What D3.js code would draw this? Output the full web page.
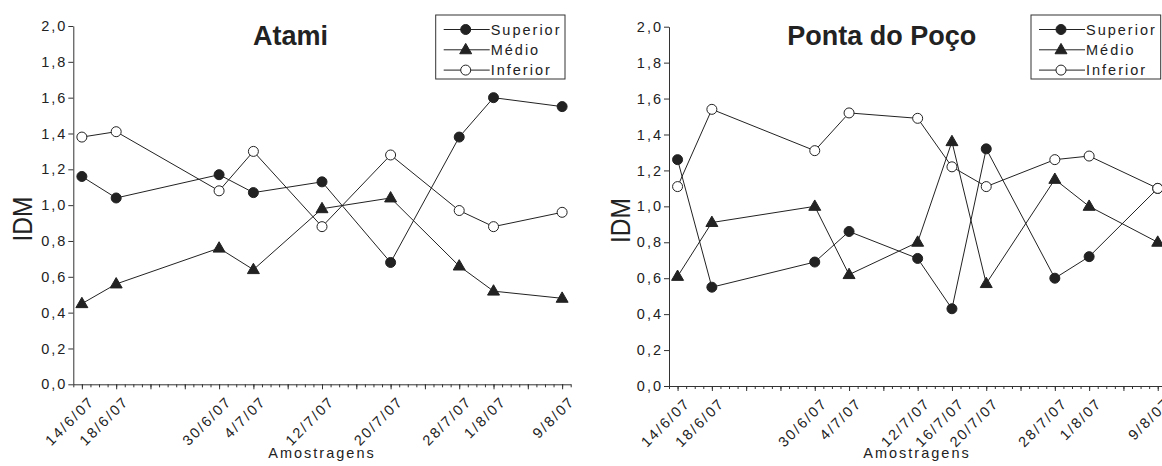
<!DOCTYPE html>
<html>
<head>
<meta charset="utf-8">
<script src="https://cdn.jsdelivr.net/npm/d3@7"></script>
<style>
  html, body { margin: 0; padding: 0; background: #fff; }
  svg { display: block; }
  text { font-family: "Liberation Sans", Arial, sans-serif; fill: #222; }
</style>
</head>
<body>
<svg id="chart" width="1162" height="466"></svg>
<script>
// ---------- data ----------
const datesAtami = ["14/6/07", "18/6/07", "30/6/07", "4/7/07", "12/7/07", "20/7/07", "28/7/07", "1/8/07", "9/8/07"];
const atamiSuperior = [1.16, 1.04, 1.17, 1.07, 1.13, 0.68, 1.38, 1.60, 1.55];
const atamiMedio    = [0.45, 0.56, 0.76, 0.64, 0.98, 1.04, 0.66, 0.52, 0.48];
const atamiInferior = [1.38, 1.41, 1.08, 1.30, 0.88, 1.28, 0.97, 0.88, 0.96];

const datesPonta = ["14/6/07", "18/6/07", "30/6/07", "4/7/07", "12/7/07", "16/7/07", "20/7/07", "28/7/07", "1/8/07", "9/8/07"];
const pontaSuperior = [1.26, 0.55, 0.69, 0.86, 0.71, 0.43, 1.32, 0.60, 0.72, 1.10];
const pontaMedio    = [0.61, 0.91, 1.00, 0.62, 0.80, 1.36, 0.57, 1.15, 1.00, 0.80];
const pontaInferior = [1.11, 1.54, 1.31, 1.52, 1.49, 1.22, 1.11, 1.26, 1.28, 1.10];

const seriesNames = ["Superior", "Médio", "Inferior"];
const yTicks = [0, 0.2, 0.4, 0.6, 0.8, 1.0, 1.2, 1.4, 1.6, 1.8, 2.0];
const xDomain = ["13/6/07", "10/8/07"];
const majorStart = "14/6/07";
const titles = ["Atami", "Ponta do Poço"];
const yLabel = "IDM";
const xLabel = "Amostragens";

// ---------- helpers ----------
const parse = d3.timeParse("%d/%m/%y");
const fmtDate = d3.timeFormat("%-d/%-m/%y");
const fmtY = v => d3.format(".1f")(v).replace(".", ",");
const INK = "#222";
const svg = d3.select("#chart");

function drawMarker(g, type, cx, cy) {
  if (type === 0) {
    g.append("circle").attr("cx", cx).attr("cy", cy).attr("r", 5)
      .attr("fill", INK).attr("stroke", INK).attr("stroke-width", 1);
  } else if (type === 1) {
    const sym = d3.symbol().type(d3.symbolTriangle).size(62);
    g.append("path").attr("d", sym()).attr("transform", `translate(${cx},${cy + 0.5})`)
      .attr("fill", INK).attr("stroke", INK).attr("stroke-width", 1);
  } else {
    g.append("circle").attr("cx", cx).attr("cy", cy).attr("r", 5)
      .attr("fill", "#fff").attr("stroke", INK).attr("stroke-width", 1);
  }
}

function panel(cfg) {
  const x = d3.scaleTime().domain(xDomain.map(parse)).range([cfg.x0, cfg.x1]);
  const y = d3.scaleLinear().domain([0, 2]).range([cfg.yBottom, cfg.yTop]);
  const g = svg.append("g");
  const dates = cfg.dates.map(parse);

  // y axis
  const ya = g.append("g").attr("transform", `translate(${cfg.x0},0)`)
    .call(d3.axisLeft(y).tickValues(yTicks).tickFormat(fmtY).tickSize(5).tickSizeOuter(0).tickPadding(1));
  ya.select(".domain").attr("stroke", "#333");
  ya.selectAll(".tick line").attr("stroke", "#333");
  ya.selectAll(".tick text").attr("font-size", "14.5px").attr("letter-spacing", "2px")
    .attr("fill", INK).attr("font-family", "Liberation Sans, Arial, sans-serif");

  // x axis minor (daily)
  const [d0, d1] = x.domain();
  const xMinor = g.append("g").attr("transform", `translate(0,${cfg.yBottom})`)
    .call(d3.axisBottom(x).tickValues(d3.timeDay.range(d0, d3.timeDay.offset(d1, 1))).tickSize(3).tickSizeOuter(0).tickFormat(""));
  xMinor.select(".domain").attr("stroke", "#333");
  xMinor.selectAll(".tick line").attr("stroke", "#333");
  // x axis major (every 4 days)
  const xMajor = g.append("g").attr("transform", `translate(0,${cfg.yBottom})`)
    .call(d3.axisBottom(x).tickValues(d3.timeDay.range(parse(majorStart), d1, 4)).tickSize(5).tickSizeOuter(0).tickFormat(""));
  xMajor.select(".domain").remove();
  xMajor.selectAll(".tick line").attr("stroke", "#333");
  // x labels
  const xLab = g.append("g").attr("transform", `translate(0,${cfg.yBottom})`)
    .call(d3.axisBottom(x).tickValues(dates).tickSize(0).tickFormat(fmtDate));
  xLab.select(".domain").remove();
  xLab.selectAll(".tick text")
    .attr("font-size", "14.5px").attr("letter-spacing", "2px")
    .attr("fill", INK).attr("font-family", "Liberation Sans, Arial, sans-serif")
    .attr("text-anchor", "end").attr("y", 0).attr("dy", 0)
    .attr("transform", "translate(13,18) rotate(-45)");

  // lines
  const series = [cfg.sup, cfg.med, cfg.inf];
  const line = d3.line().x((d, i) => x(dates[i])).y(d => y(d));
  series.forEach(s => {
    g.append("path").datum(s).attr("d", line).attr("fill", "none")
      .attr("stroke", INK).attr("stroke-width", 1);
  });
  series.forEach((s, k) => {
    s.forEach((v, i) => drawMarker(g, k, x(dates[i]), y(v)));
  });

  // title
  g.append("text").attr("x", cfg.titleX).attr("y", 45).attr("text-anchor", "middle")
    .attr("font-size", "27px").attr("font-weight", "bold").attr("fill", "#000").text(cfg.title);

  // y label
  g.append("text").attr("transform", `translate(${cfg.yLabX},${cfg.yLabY}) rotate(-90)`)
    .attr("text-anchor", "middle").attr("font-size", "28px")
    .attr("textLength", 45).attr("lengthAdjust", "spacingAndGlyphs").text(yLabel);

  // x label
  g.append("text").attr("x", cfg.xLabX).attr("y", 458).attr("text-anchor", "middle")
    .attr("font-size", "14.5px").attr("letter-spacing", "2px").text(xLabel);

  // legend
  const lg = g.append("g");
  lg.append("rect").attr("x", cfg.legX).attr("y", 15).attr("width", cfg.legW).attr("height", 64)
    .attr("fill", "#fff").attr("stroke", "#333").attr("stroke-width", 1);
  seriesNames.forEach((name, k) => {
    const cy = 29.5 + k * 20.3;
    lg.append("line").attr("x1", cfg.legX + 8).attr("x2", cfg.legX + 54).attr("y1", cy).attr("y2", cy)
      .attr("stroke", INK).attr("stroke-width", 1);
    drawMarker(lg, k, cfg.legX + 30, cy);
    lg.append("text").attr("x", cfg.legX + 55).attr("y", cy + 5.3)
      .attr("font-size", "14.5px").attr("letter-spacing", "2px").text(name);
  });
}

panel({ x0: 73.3, x1: 570.7, yTop: 26, yBottom: 384.3, dates: datesAtami,
  sup: atamiSuperior, med: atamiMedio, inf: atamiInferior, title: titles[0], titleX: 290.5,
  yLabX: 32, yLabY: 219, xLabX: 322, legX: 435.7, legW: 129.3 });
panel({ x0: 669, x1: 1166.3, yTop: 26.7, yBottom: 386, dates: datesPonta,
  sup: pontaSuperior, med: pontaMedio, inf: pontaInferior, title: titles[1], titleX: 881.7,
  yLabX: 630, yLabY: 220.5, xLabX: 917, legX: 1031, legW: 129.7 });
</script>
</body>
</html>
